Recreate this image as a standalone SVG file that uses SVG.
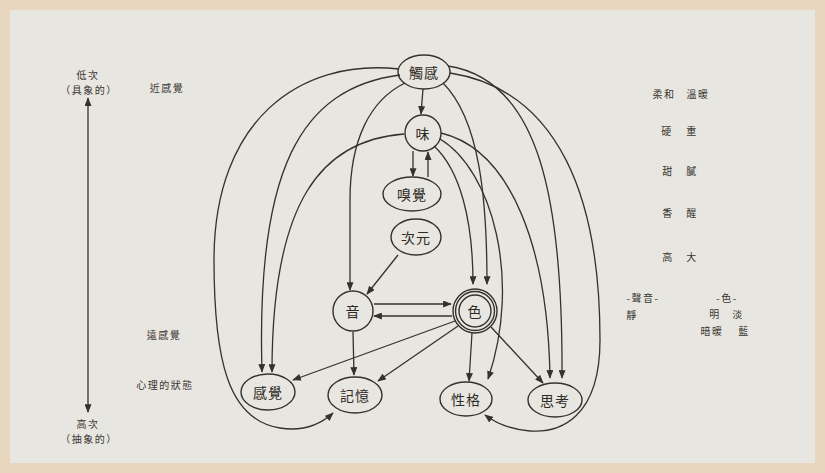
<svg xmlns="http://www.w3.org/2000/svg" width="825" height="473" viewBox="0 0 825 473">
  <defs>
    <marker id="arr" viewBox="0 0 10 8" refX="9" refY="4" markerWidth="9" markerHeight="7" markerUnits="userSpaceOnUse" orient="auto">
      <path d="M0,0 L10,4 L0,8 z" fill="#36312c"/>
    </marker>
    <marker id="arrStart" viewBox="0 0 10 8" refX="1" refY="4" markerWidth="9" markerHeight="7" markerUnits="userSpaceOnUse" orient="auto">
      <path d="M10,0 L0,4 L10,8 z" fill="#36312c"/>
    </marker>
    <style>
      .node { fill: none; stroke: #36312c; stroke-width: 1.4; }
      .ntext { font-family: "Noto Sans CJK TC", "Noto Sans CJK JP", sans-serif; font-size: 14px; fill: #2f2a26; text-anchor: middle; dominant-baseline: central; letter-spacing: 1px; }
      .lbl { font-family: "Noto Sans CJK TC", "Noto Sans CJK JP", sans-serif; font-size: 10px; fill: #3a3531; text-anchor: middle; dominant-baseline: central; letter-spacing: 1.5px; }
      .edge { fill: none; stroke: #36312c; stroke-width: 1.3; marker-end: url(#arr); }
    </style>
  </defs>

  <!-- page -->
  <rect x="0" y="0" width="825" height="473" fill="#e9d6be"/>
  <rect x="10" y="10" width="805" height="453" fill="#e8e6e0"/>

  <!-- level axis -->
  <g id="axis">
    <line x1="88" y1="98" x2="88" y2="412" stroke="#36312c" stroke-width="1.3" marker-start="url(#arrStart)" marker-end="url(#arr)"/>
    <text class="lbl" x="88" y="74">低次</text>
    <text class="lbl" x="89" y="89">（具象的）</text>
    <text class="lbl" x="88" y="423">高次</text>
    <text class="lbl" x="89" y="438">（抽象的）</text>
    <text class="lbl" x="167" y="87">近感覺</text>
    <text class="lbl" x="164" y="334">遠感覺</text>
    <text class="lbl" x="165" y="384">心理的狀態</text>
  </g>

  <!-- attribute column -->
  <g id="attributes">
    <text class="lbl" x="664" y="93">柔和</text>
    <text class="lbl" x="698" y="93">溫暖</text>
    <text class="lbl" x="667" y="130">硬</text>
    <text class="lbl" x="692" y="130">重</text>
    <text class="lbl" x="668" y="170">甜</text>
    <text class="lbl" x="692" y="170">膩</text>
    <text class="lbl" x="668" y="212">香</text>
    <text class="lbl" x="692" y="212">醒</text>
    <text class="lbl" x="668" y="256">高</text>
    <text class="lbl" x="692" y="256">大</text>
    <text class="lbl" x="643" y="297">-聲音-</text>
    <text class="lbl" x="632" y="314">靜</text>
    <text class="lbl" x="727" y="297">-色-</text>
    <text class="lbl" x="715" y="313">明</text>
    <text class="lbl" x="738" y="313">淡</text>
    <text class="lbl" x="712" y="330">暗暖</text>
    <text class="lbl" x="744" y="330">藍</text>
  </g>

  <!-- connectors -->
  <g id="connectors">
    <!-- straight links -->
    <line class="edge" x1="423" y1="89" x2="421" y2="114"/>
    <line class="edge" x1="413" y1="151" x2="413" y2="176"/>
    <line class="edge" x1="428" y1="177" x2="428" y2="152"/>
    <line class="edge" x1="398" y1="255" x2="367" y2="294"/>
    <line class="edge" x1="374" y1="304" x2="451" y2="304"/>
    <line class="edge" x1="452" y1="316" x2="374" y2="316"/>
    <line class="edge" x1="353" y1="332" x2="354" y2="375"/>
    <line class="edge" x1="455" y1="321" x2="293" y2="380"/>
    <line class="edge" x1="458" y1="326" x2="378" y2="381"/>
    <line class="edge" x1="472" y1="333" x2="469" y2="381"/>
    <line class="edge" x1="491" y1="327" x2="543" y2="383"/>

    <!-- curves on the left -->
    <path class="edge" d="M399 69 C300 58, 214 120, 214 260 C214 360, 228 420, 280 428 C305 432, 322 423, 333 413"/>
    <path class="edge" d="M400 75 C300 88, 256 170, 262 372"/>
    <path class="edge" d="M404 134 C322 140, 272 200, 272 372"/>
    <path class="edge" d="M405 83 C370 100, 350 140, 350 200 L350 290"/>

    <!-- curves on the right -->
    <path class="edge" d="M443 83 C480 120, 487 200, 487 284"/>
    <path class="edge" d="M434 146 C460 170, 473 220, 473 284"/>
    <path class="edge" d="M440 139 C492 170, 522 280, 488 379"/>
    <path class="edge" d="M441 133 C512 150, 548 250, 550 378"/>
    <path class="edge" d="M448 66 C540 80, 563 200, 562 378"/>
    <path class="edge" d="M450 73 C560 90, 600 200, 600 340 C600 418, 560 433, 530 431 C506 429, 493 421, 485 415"/>
  </g>

  <!-- nodes -->
  <g id="touch">
    <ellipse class="node" cx="424" cy="72" rx="26" ry="17"/>
    <text class="ntext" x="424" y="72">觸感</text>
  </g>
  <g id="taste">
    <circle class="node" cx="423" cy="133" r="18"/>
    <text class="ntext" x="423" y="133">味</text>
  </g>
  <g id="smell">
    <ellipse class="node" cx="412" cy="194" rx="29" ry="17"/>
    <text class="ntext" x="412" y="194">嗅覺</text>
  </g>
  <g id="dimension">
    <ellipse class="node" cx="416" cy="237" rx="25" ry="18"/>
    <text class="ntext" x="416" y="237">次元</text>
  </g>
  <g id="sound">
    <circle class="node" cx="353" cy="311" r="20"/>
    <text class="ntext" x="353" y="311">音</text>
  </g>
  <g id="color">
    <circle class="node" cx="475" cy="311" r="22"/>
    <circle class="node" cx="475" cy="311" r="19.5"/>
    <circle class="node" cx="475" cy="311" r="16"/>
    <text class="ntext" x="475" y="311">色</text>
  </g>
  <g id="sensation">
    <ellipse class="node" cx="268" cy="392" rx="27" ry="18"/>
    <text class="ntext" x="268" y="392">感覺</text>
  </g>
  <g id="memory">
    <ellipse class="node" cx="355" cy="395" rx="27" ry="18"/>
    <text class="ntext" x="355" y="395">記憶</text>
  </g>
  <g id="character">
    <ellipse class="node" cx="466" cy="399" rx="26" ry="17"/>
    <text class="ntext" x="466" y="399">性格</text>
  </g>
  <g id="thought">
    <ellipse class="node" cx="555" cy="400" rx="27" ry="17"/>
    <text class="ntext" x="555" y="400">思考</text>
  </g>
</svg>
